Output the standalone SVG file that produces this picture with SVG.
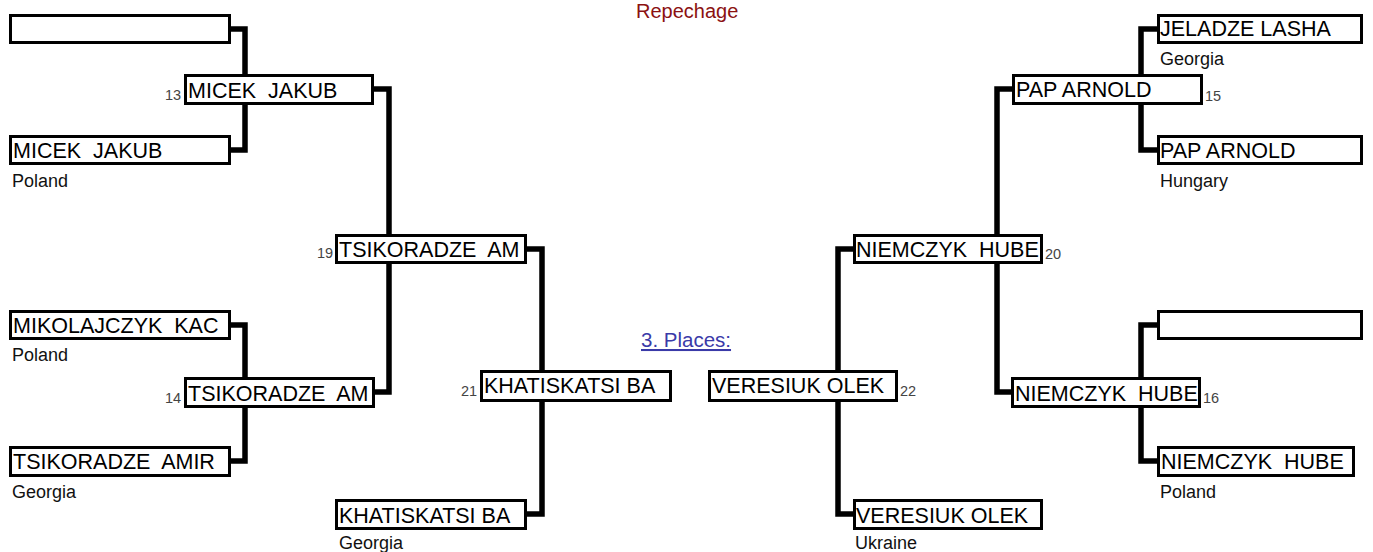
<svg xmlns="http://www.w3.org/2000/svg" width="1373" height="552" viewBox="0 0 1373 552">
<style>
.box{fill:#fff;stroke:#000;stroke-width:3}
.name{font-family:"Liberation Sans",Arial,sans-serif;font-size:21.5px;fill:#000;white-space:pre}
.cty{font-family:"Liberation Sans",Arial,sans-serif;font-size:18px;fill:#111}
.num{font-family:"Liberation Sans",Arial,sans-serif;font-size:14.5px;fill:#444}
.con{fill:none;stroke:#000;stroke-width:5.5;stroke-linejoin:miter}
</style>
<rect width="1373" height="552" fill="#fff"/>
<text x="636" y="18" font-family="'Liberation Sans',Arial,sans-serif" font-size="20" fill="#8b1111">Repechage</text>
<text x="641" y="347" font-family="'Liberation Sans',Arial,sans-serif" font-size="20.5" fill="#3a3aa8" text-decoration="underline">3. Places:</text>
<g id="connectors">
<path class="con" d="M231,29 H245 V74"/>
<path class="con" d="M231,150 H245 V105"/>
<path class="con" d="M374,89 H389 V234"/>
<path class="con" d="M231,325 H245 V377"/>
<path class="con" d="M231,461 H245 V408"/>
<path class="con" d="M375,392 H389 V264"/>
<path class="con" d="M527,249 H542 V370"/>
<path class="con" d="M527,514 H542 V402"/>
<path class="con" d="M1157,29 H1141 V74"/>
<path class="con" d="M1157,150 H1141 V105"/>
<path class="con" d="M1012,89 H997 V234"/>
<path class="con" d="M1157,325 H1141 V377"/>
<path class="con" d="M1157,461 H1141 V408"/>
<path class="con" d="M1011,392 H997 V264"/>
<path class="con" d="M853,249 H838 V370"/>
<path class="con" d="M853,514 H838 V402"/>
</g>
<g id="n-top-blank-left"><rect class="box" x="10.5" y="15.5" width="219" height="27"/></g>
<g id="n-micek"><rect class="box" x="10.5" y="136.5" width="219" height="27"/><text class="name" x="13" y="158" xml:space="preserve">MICEK  JAKUB</text><text class="cty" x="12" y="187">Poland</text></g>
<g id="n-13"><rect class="box" x="185.5" y="75.5" width="187" height="28"/><text class="name" x="188" y="98" xml:space="preserve">MICEK  JAKUB</text><text class="num" x="165" y="100">13</text></g>
<g id="n-mikolajczyk"><rect class="box" x="10.5" y="311.5" width="219" height="27"/><text class="name" x="13" y="333" xml:space="preserve">MIKOLAJCZYK  KAC</text><text class="cty" x="12" y="361">Poland</text></g>
<g id="n-amir"><rect class="box" x="10.5" y="447.5" width="219" height="28"/><text class="name" x="13" y="469" xml:space="preserve">TSIKORADZE  AMIR</text><text class="cty" x="12" y="498">Georgia</text></g>
<g id="n-14"><rect class="box" x="185.5" y="378.5" width="188" height="28"/><text class="name" x="188" y="401" xml:space="preserve">TSIKORADZE  AM</text><text class="num" x="165" y="403">14</text></g>
<g id="n-19"><rect class="box" x="336.5" y="235.5" width="189" height="27"/><text class="name" x="339" y="257" xml:space="preserve">TSIKORADZE  AM</text><text class="num" x="317" y="258">19</text></g>
<g id="n-21"><rect class="box" x="481.5" y="371.5" width="189" height="29"/><text class="name" x="484" y="393">KHATISKATSI BA</text><text class="num" x="461" y="396">21</text></g>
<g id="n-khat"><rect class="box" x="336.5" y="500.5" width="189" height="28"/><text class="name" x="339" y="523">KHATISKATSI BA</text><text class="cty" x="339" y="549">Georgia</text></g>
<g id="n-jeladze"><rect class="box" x="1158.5" y="15.5" width="203" height="27"/><text class="name" x="1160" y="36">JELADZE LASHA</text><text class="cty" x="1160" y="65">Georgia</text></g>
<g id="n-pap"><rect class="box" x="1158.5" y="136.5" width="203" height="27"/><text class="name" x="1160" y="158">PAP ARNOLD</text><text class="cty" x="1160" y="187">Hungary</text></g>
<g id="n-15"><rect class="box" x="1013.5" y="75.5" width="188" height="28"/><text class="name" x="1016" y="97">PAP ARNOLD</text><text class="num" x="1205" y="101">15</text></g>
<g id="n-20"><rect class="box" x="854.5" y="235.5" width="187" height="27"/><text class="name" x="856" y="257" xml:space="preserve">NIEMCZYK  HUBE</text><text class="num" x="1045" y="259">20</text></g>
<g id="n-top-blank-right"><rect class="box" x="1158.5" y="311.5" width="203" height="27"/></g>
<g id="n-niemczyk"><rect class="box" x="1158.5" y="447.5" width="195" height="28"/><text class="name" x="1161" y="469" xml:space="preserve">NIEMCZYK  HUBE</text><text class="cty" x="1160" y="498">Poland</text></g>
<g id="n-16"><rect class="box" x="1012.5" y="378.5" width="187" height="28"/><text class="name" x="1015" y="401" xml:space="preserve">NIEMCZYK  HUBE</text><text class="num" x="1203" y="403">16</text></g>
<g id="n-22"><rect class="box" x="709.5" y="371.5" width="187" height="29"/><text class="name" x="712" y="393">VERESIUK OLEK</text><text class="num" x="900" y="396">22</text></g>
<g id="n-veresiuk"><rect class="box" x="854.5" y="500.5" width="187" height="28"/><text class="name" x="856" y="523">VERESIUK OLEK</text><text class="cty" x="855" y="549">Ukraine</text></g>
</svg>
